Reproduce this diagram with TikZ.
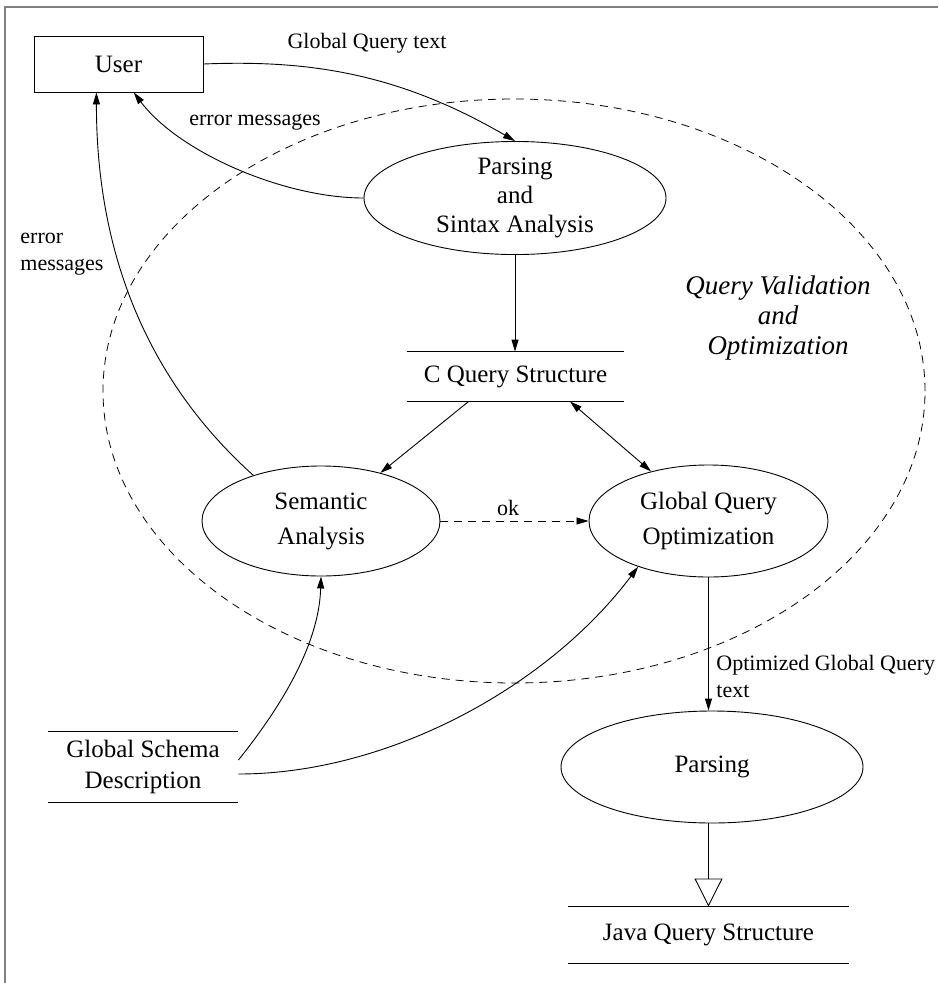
\documentclass[tikz,border=0pt]{standalone}
\usepackage{fontspec}
\setmainfont{Liberation Serif}
\usetikzlibrary{arrows.meta,shapes.geometric,calc}

\begin{document}
\begin{tikzpicture}[x=1pt,y=1pt,
  line width=0.9pt,
  tip/.style={-{Triangle[length=12pt,width=7pt]}},
  dtip/.style={{Triangle[length=12pt,width=7pt]}-{Triangle[length=12pt,width=7pt]}},
  opentip/.style={-{Triangle[open,length=28pt,width=28pt]}},
  proc/.style={ellipse, draw, inner sep=0pt, align=center, font=\fontsize{25}{35}\selectfont},
  store/.style={inner sep=0pt, align=center, font=\fontsize{25}{31}\selectfont},
  storeline/.style={line width=0.9pt},
  lbl/.style={inner sep=0pt, align=left, font=\fontsize{22}{27}\selectfont},
  bound/.style={dash pattern=on 8pt off 6pt, line width=0.8pt}
]
\useasboundingbox (0,0) rectangle (938,-983);

% outer frame
\draw[gray, line width=2pt] (5,-983) -- (5,-7) -- (938,-7);

% boundary of the validation / optimization subsystem
\draw[bound] (514,-391) ellipse [x radius=411, y radius=292];
\node[inner sep=0pt, align=center, font=\fontsize{27}{30}\selectfont\itshape] (qvo) at (778,-318)
  {Query Validation\\and\\Optimization};

% external entity
\node[draw, minimum width=169pt, minimum height=56pt, inner sep=0pt,
      font=\fontsize{25}{30}\selectfont] (user) at (118.5,-64) {User};

% processes
\node[proc, minimum width=302pt, minimum height=112pt, font=\fontsize{25}{29}\selectfont]
  (pars) at (515,-198) {Parsing\\and\\Sintax Analysis};
\node[proc, minimum width=238pt, minimum height=110pt] (sem) at (321,-521) {Semantic\\Analysis};
\node[proc, minimum width=239pt, minimum height=112pt] (gqo) at (708.5,-521) {Global Query\\Optimization};
\node[proc, minimum width=302pt, minimum height=112pt] (p2) at (712,-767) {Parsing};

% data stores
\node[store, minimum width=217pt, minimum height=49pt] (cq) at (515.5,-376.5) {C Query Structure};
\node[store, minimum width=281pt, minimum height=56pt] (java) at (708.5,-935) {Java Query Structure};
\node[store, minimum width=190pt, minimum height=70pt] (gsd) at (143,-767) {Global Schema\\Description};
\foreach \s in {cq,java,gsd}
  \draw[storeline] (\s.north west) -- (\s.north east) (\s.south west) -- (\s.south east);

% anchor points on the sides of boxes
\coordinate (userA) at ($(user.south west)!0.37!(user.south east)$);
\coordinate (userB) at ($(user.south west)!0.59!(user.south east)$);
\coordinate (cqL) at ($(cq.south west)!0.285!(cq.south east)$);
\coordinate (cqR) at ($(cq.south west)!0.75!(cq.south east)$);
\coordinate (gsdA) at ($(gsd.east)+(0,7)$);
\coordinate (gsdB) at ($(gsd.east)+(0,-7)$);

% flows
\draw[tip] (user.east) .. controls +(100,4) and +(-120,70) .. (pars.north);
\node[lbl] (lq) at (367,-43) {Global Query text};

\draw[tip] (pars.west) .. controls +(-80,0) and +(45,-60) .. (userB);
\node[lbl] (le1) at (255,-122) {error messages};

\draw[tip] (sem.146) .. controls +(-100,90) and +(0,-170) .. (userA);
\node[lbl, anchor=west] (le2) at (20,-254) {error\\messages};

\draw[tip] (pars.south) -- (pars.south |- cq.north);
\draw[tip] (cqL) -- (sem);
\draw[dtip] (cqR) -- (gqo);

\draw[tip, bound] (sem.east) -- (gqo.west);
\node[lbl] (lok) at (508,-508) {ok};

\draw[tip] (gsdA) .. controls +(40,50) and +(-2,-70) .. (sem.south);
\draw[tip] (gsdB) .. controls +(150,0) and +(-90,-120) .. (gqo.213);

\draw[tip] (gqo.south) -- (gqo.south |- p2.north);
\node[lbl, anchor=west] (lopt) at (716,-676) {Optimized Global Query\\text};

\draw[opentip] (java.north |- p2.south) -- (java.north);
\end{tikzpicture}
\end{document}
